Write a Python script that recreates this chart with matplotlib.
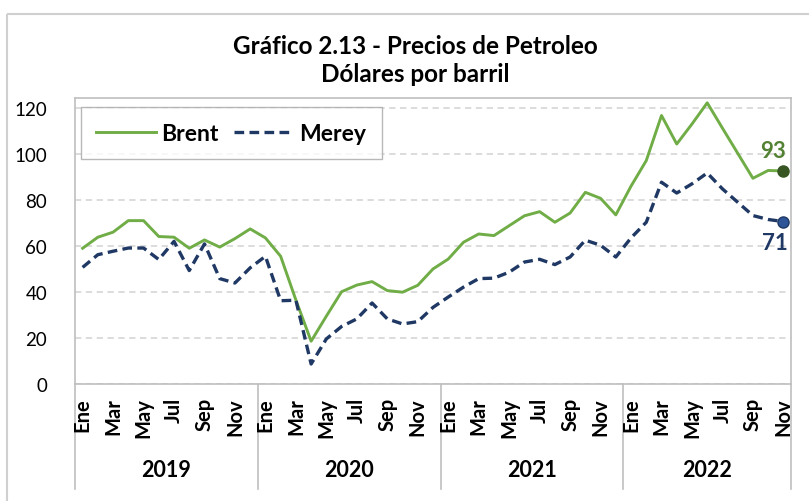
import matplotlib
matplotlib.use("Agg")
import matplotlib.pyplot as plt
import matplotlib.transforms as mtransforms
from matplotlib.patches import Rectangle

plt.rcParams['font.family'] = ['Lato', 'DejaVu Sans']

years = ['2019', '2020', '2021', '2022']
months = ['Ene', 'Feb', 'Mar', 'Abr', 'May', 'Jun', 'Jul', 'Ago', 'Sep', 'Oct', 'Nov', 'Dic']
month_labels = ['Ene', '', 'Mar', '', 'May', '', 'Jul', '', 'Sep', '', 'Nov', '']
months_per_year = [12, 12, 12, 11]

brent = [59.0, 63.8, 66.0, 71.0, 71.0, 64.1, 63.8, 59.0, 62.6, 59.5, 63.2, 67.4,
         63.5, 55.5, 36.5, 18.6, 29.5, 40.1, 43.0, 44.5, 40.6, 39.9, 42.9, 50.0,
         54.3, 61.6, 65.2, 64.5, 68.8, 73.1, 74.9, 70.3, 74.3, 83.3, 80.7, 73.5,
         86.0, 97.1, 116.7, 104.3, 113.0, 122.2, 111.2, 100.3, 89.4, 92.8, 92.6]
merey = [50.7, 56.2, 57.7, 59.1, 59.1, 54.1, 62.0, 49.3, 60.9, 45.8, 43.9, 50.5,
         55.5, 36.2, 36.4, 8.7, 19.6, 25.0, 28.3, 35.2, 28.3, 26.1, 27.1, 33.3,
         37.8, 42.1, 45.8, 46.0, 48.6, 53.0, 54.2, 51.9, 55.2, 62.5, 60.3, 55.2,
         63.5, 70.3, 87.7, 83.0, 87.0, 91.7, 84.8, 79.0, 73.2, 71.5, 70.6]

green = '#70AD47'
navy = '#1F3864'

fig = plt.figure(figsize=(8.09, 5.02), dpi=100)
W, H = 809, 502

# outer frame
fig.patches.append(Rectangle((7 / W, 1 - 15 / H), 2, -2, transform=fig.transFigure,
                             fill=False, edgecolor='#D0D0D0', linewidth=1.5))

ax = fig.add_axes([75 / W, 1 - 385 / H, (791 - 75) / W, (385 - 99) / H])
n = len(brent)
x = list(range(n))

ax.set_xlim(-0.5, n - 0.5)
ax.set_ylim(0, 124.3)
ax.set_yticks([0, 20, 40, 60, 80, 100, 120])
ax.set_yticklabels(['0', '20', '40', '60', '80', '100', '120'], fontsize=13.5)
ax.tick_params(axis='y', length=0, pad=20)
for lab in ax.get_yticklabels():
    lab.set_ha('right')
ax.set_xticks([])
for s in ax.spines.values():
    s.set_color('#BFBFBF')
    s.set_linewidth(1.2)
ax.grid(axis='y', color='#D9D9D9', linestyle=(0, (3.5, 2.5)), linewidth=1.3)
ax.set_axisbelow(True)

ax.plot(x, brent, color=green, linewidth=2.1, label='Brent', zorder=3)
ax.plot(x, merey, color=navy, linewidth=2.4, linestyle=(0, (2.9, 1.6)), label='Merey', zorder=3)
ax.plot([x[-1]], [brent[-1]], 'o', color='#375623', markersize=8, zorder=4)
ax.plot([x[-1]], [merey[-1]], 'o', color='#2E5597', markeredgecolor='#1F3864', markersize=8, zorder=4)
ax.text(x[-1] - 0.65, brent[-1] + 4.5, f'{round(brent[-1])}', color='#548235', fontsize=16,
        fontweight='bold', ha='center', va='bottom')
ax.text(x[-1] - 0.55, merey[-1] - 4.5, f'{round(merey[-1])}', color=navy, fontsize=16,
        fontweight='bold', ha='center', va='top')

# month labels and year groups
trans = mtransforms.blended_transform_factory(ax.transData, ax.transAxes)
sep_bottom = -(490 - 385) / (385 - 99)
pos = 0
seps = [-0.5]
for yr, cnt in zip(years, months_per_year):
    for k in range(cnt):
        if month_labels[k]:
            ax.text(pos + k, -(398 - 385) / (385 - 99), month_labels[k], rotation=90,
                    ha='center', va='top', fontsize=14.5, fontweight='bold', transform=trans)
    ax.text(pos + (cnt - 1) / 2, -(471 - 385) / (385 - 99), yr, ha='center', va='center',
            fontsize=15.5, fontweight='bold', transform=trans)
    pos += cnt
    seps.append(pos - 0.5)
for s in seps:
    ax.plot([s, s], [0, sep_bottom], color='#BFBFBF', linewidth=1.2, transform=trans, clip_on=False)

leg = ax.legend(loc='upper left', bbox_to_anchor=(0.008, 0.9685), ncol=2, frameon=True,
                fancybox=False, edgecolor='#A6A6A6', handlelength=2.6,
                handletextpad=0.25, columnspacing=0.65, borderaxespad=0, borderpad=0.68,
                prop={'weight': 'bold', 'size': 16.5})
leg.get_frame().set_linewidth(1.0)

fig.text(415 / W, 1 - 47 / H, 'Gráfico 2.13 - Precios de Petroleo', ha='center', va='center',
         fontsize=17.5, fontweight='bold')
fig.text(415 / W, 1 - 75 / H, 'Dólares por barril', ha='center', va='center',
         fontsize=17.5, fontweight='bold')

fig.savefig('out.png', dpi=100)
